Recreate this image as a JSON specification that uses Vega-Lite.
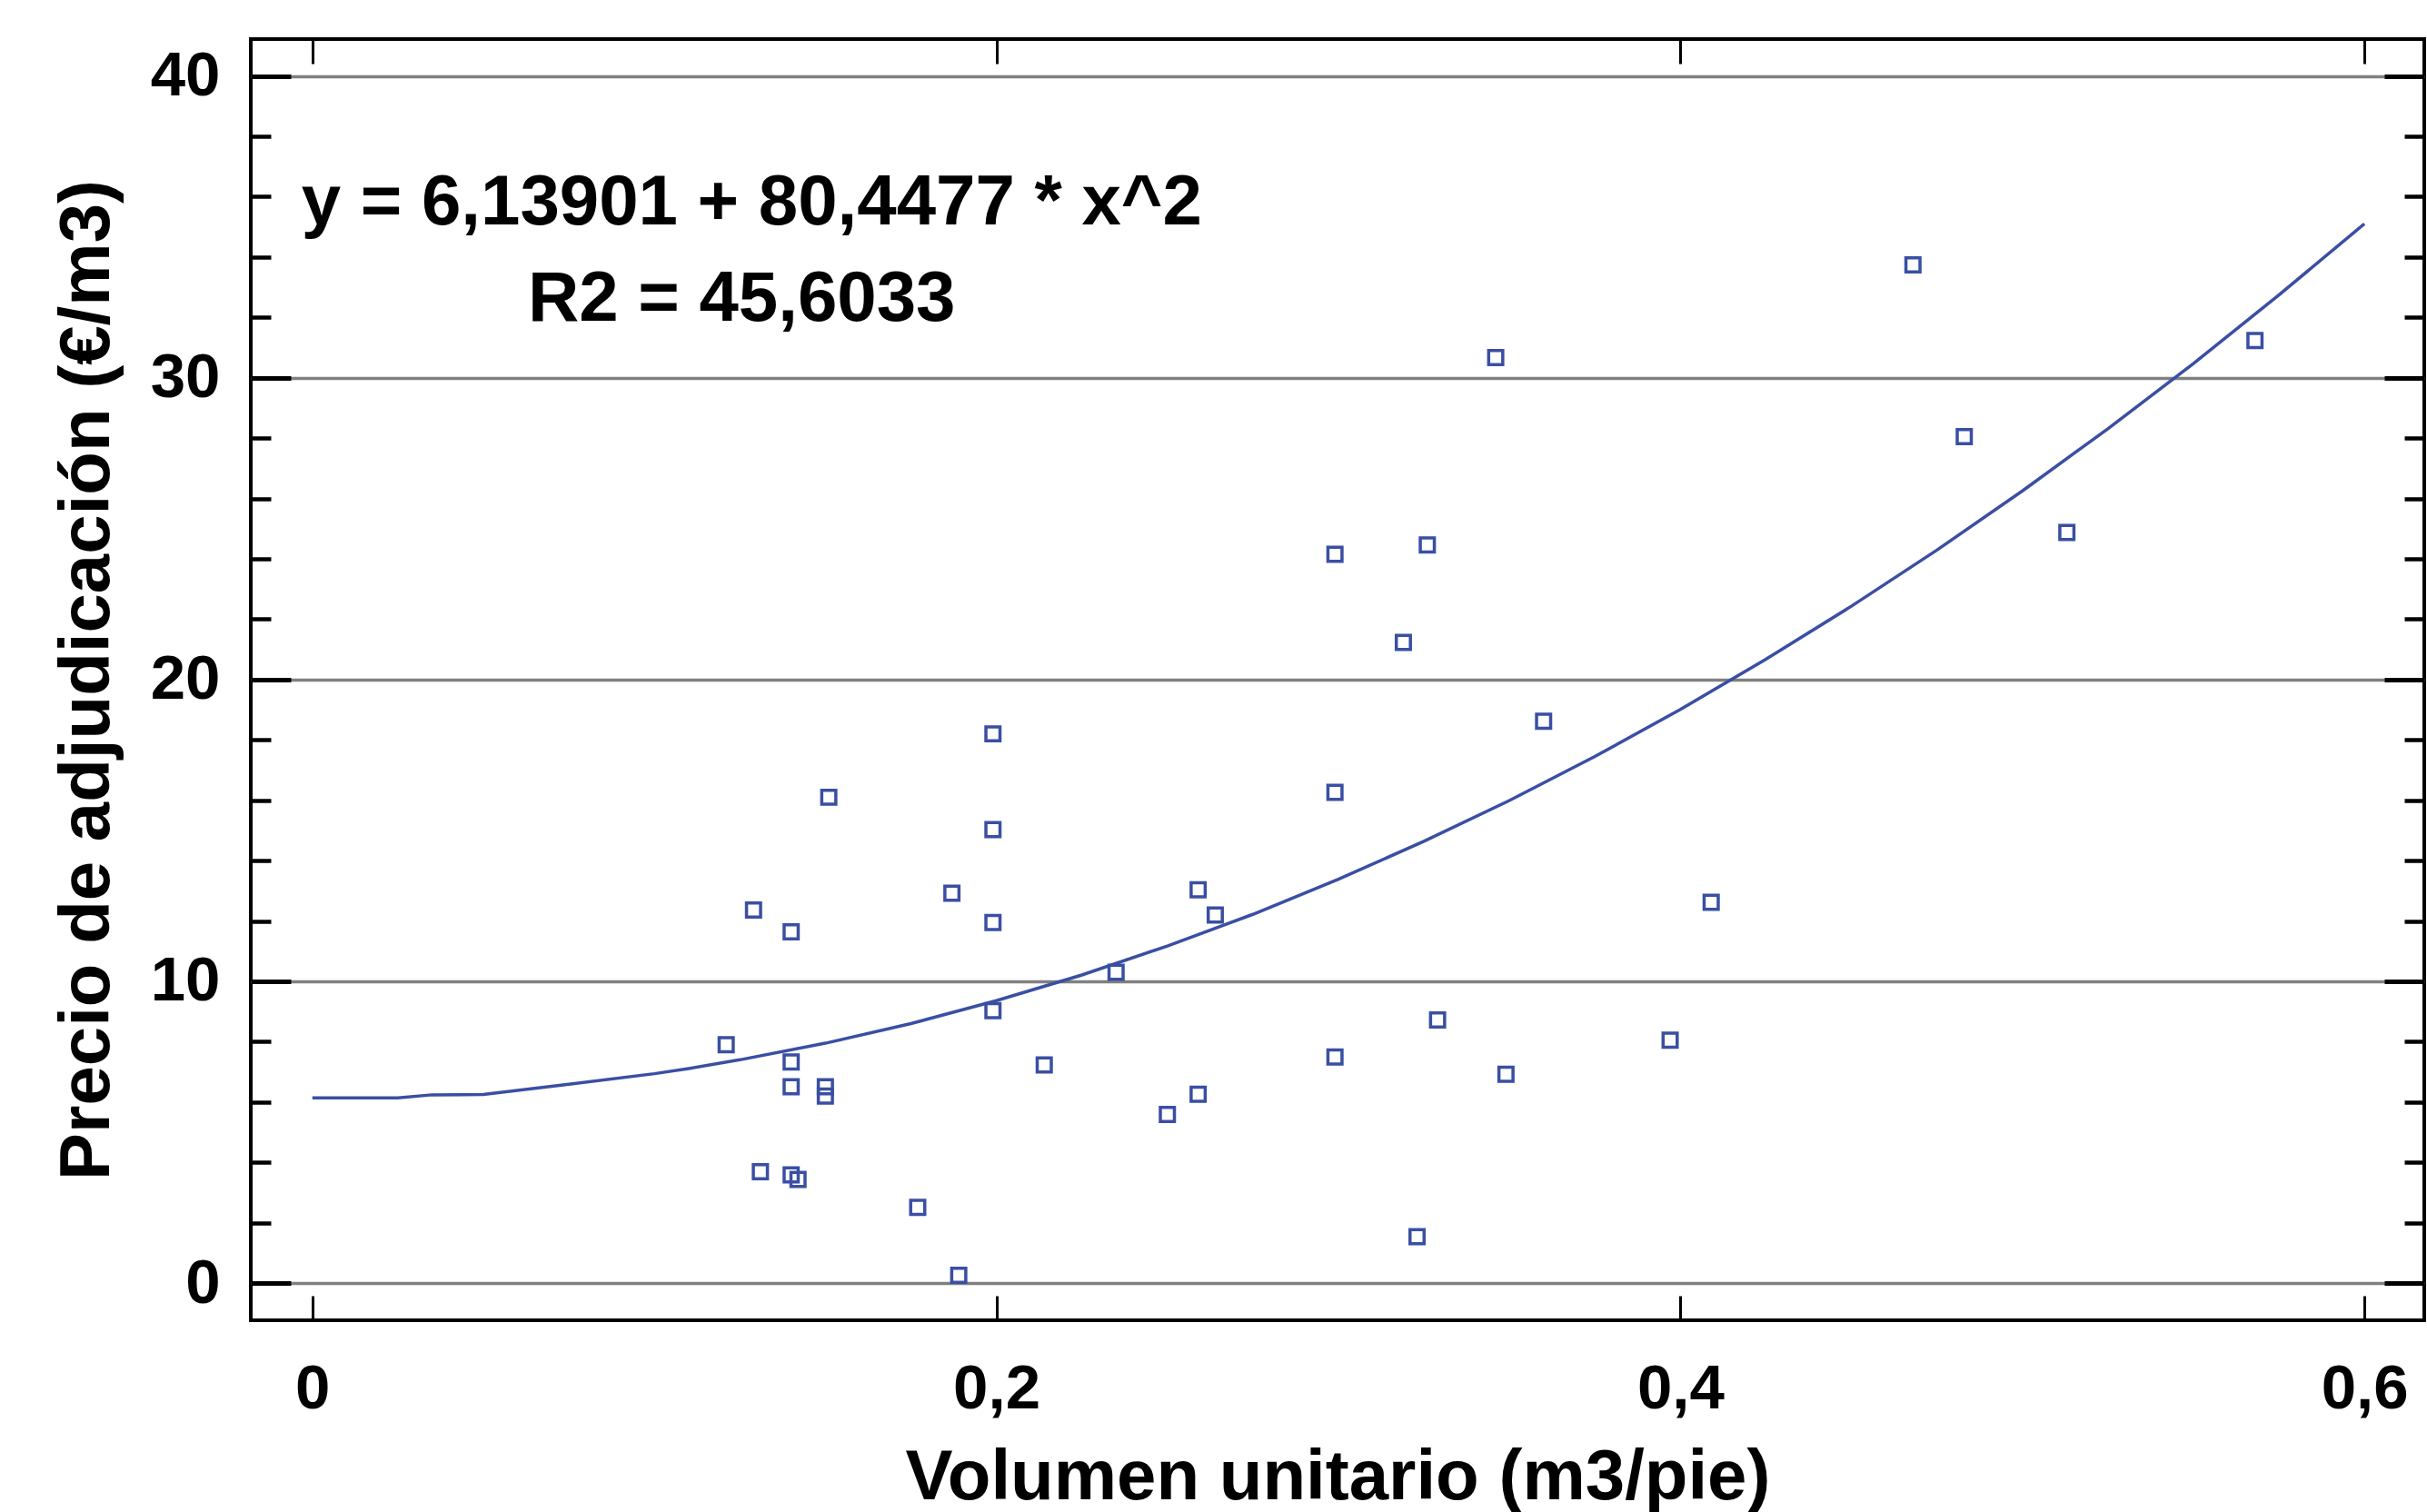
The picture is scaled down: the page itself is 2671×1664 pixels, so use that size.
{
  "$schema": "https://vega.github.io/schema/vega-lite/v6.json",
  "width": 2392,
  "height": 1410,
  "autosize": "none",
  "padding": {"left": 276, "top": 43, "right": 3, "bottom": 211},
  "background": "white",
  "config": {
    "view": {"stroke": "black", "strokeWidth": 4},
    "font": "Liberation Sans",
    "axis": {"labelFont": "Liberation Sans", "titleFont": "Liberation Sans", "labelFontWeight": "bold", "titleFontWeight": "bold", "labelColor": "black", "titleColor": "black", "tickColor": "black", "domain": false}
  },
  "datasets": {
    "pts": [
      {"vol": 0.121, "precio": 7.9},
      {"vol": 0.129, "precio": 12.36},
      {"vol": 0.131, "precio": 3.69},
      {"vol": 0.140, "precio": 11.64},
      {"vol": 0.140, "precio": 7.33},
      {"vol": 0.140, "precio": 6.51},
      {"vol": 0.140, "precio": 3.59},
      {"vol": 0.142, "precio": 3.44},
      {"vol": 0.150, "precio": 6.51},
      {"vol": 0.150, "precio": 6.2},
      {"vol": 0.151, "precio": 16.1},
      {"vol": 0.177, "precio": 2.51},
      {"vol": 0.187, "precio": 12.92},
      {"vol": 0.189, "precio": 0.26},
      {"vol": 0.199, "precio": 18.2},
      {"vol": 0.199, "precio": 15.03},
      {"vol": 0.199, "precio": 11.95},
      {"vol": 0.199, "precio": 9.03},
      {"vol": 0.214, "precio": 7.23},
      {"vol": 0.235, "precio": 10.3},
      {"vol": 0.250, "precio": 5.59},
      {"vol": 0.259, "precio": 13.03},
      {"vol": 0.259, "precio": 6.26},
      {"vol": 0.264, "precio": 12.2},
      {"vol": 0.299, "precio": 24.15},
      {"vol": 0.299, "precio": 16.26},
      {"vol": 0.299, "precio": 7.49},
      {"vol": 0.319, "precio": 21.23},
      {"vol": 0.323, "precio": 1.54},
      {"vol": 0.326, "precio": 24.46},
      {"vol": 0.329, "precio": 8.72},
      {"vol": 0.346, "precio": 30.67},
      {"vol": 0.349, "precio": 6.92},
      {"vol": 0.360, "precio": 18.62},
      {"vol": 0.397, "precio": 8.05},
      {"vol": 0.409, "precio": 12.62},
      {"vol": 0.468, "precio": 33.74},
      {"vol": 0.483, "precio": 28.05},
      {"vol": 0.513, "precio": 24.87},
      {"vol": 0.568, "precio": 31.23}
    ],
    "fit": [
      {"vol": 0.0, "precio": 6.14},
      {"vol": 0.025, "precio": 6.14},
      {"vol": 0.035, "precio": 6.24},
      {"vol": 0.05, "precio": 6.25},
      {"vol": 0.075, "precio": 6.59},
      {"vol": 0.1, "precio": 6.94},
      {"vol": 0.11, "precio": 7.11},
      {"vol": 0.125, "precio": 7.4},
      {"vol": 0.15, "precio": 7.95},
      {"vol": 0.175, "precio": 8.6},
      {"vol": 0.2, "precio": 9.36},
      {"vol": 0.225, "precio": 10.21},
      {"vol": 0.25, "precio": 11.17},
      {"vol": 0.275, "precio": 12.22},
      {"vol": 0.3, "precio": 13.38},
      {"vol": 0.325, "precio": 14.64},
      {"vol": 0.35, "precio": 15.99},
      {"vol": 0.375, "precio": 17.45},
      {"vol": 0.4, "precio": 19.01},
      {"vol": 0.425, "precio": 20.67},
      {"vol": 0.45, "precio": 22.43},
      {"vol": 0.475, "precio": 24.29},
      {"vol": 0.5, "precio": 26.25},
      {"vol": 0.525, "precio": 28.31},
      {"vol": 0.55, "precio": 30.47},
      {"vol": 0.575, "precio": 32.74},
      {"vol": 0.6, "precio": 35.1}
    ],
    "eq": [
      {"vol": -0.0032, "precio": 35.09, "label": "y = 6,13901 + 80,4477 * x^2"}
    ],
    "r2": [
      {"vol": 0.063, "precio": 31.9, "label": "R2 = 45,6033"}
    ]
  },
  "layer": [
    {
      "data": {"name": "pts"},
      "mark": {"type": "point", "shape": "square", "filled": false, "stroke": "#3a4fa3", "strokeWidth": 3.5, "size": 240, "opacity": 1},
      "encoding": {
        "x": {"field": "vol", "type": "quantitative",
          "scale": {"domain": [-0.018, 0.6175], "nice": false, "zero": false},
          "axis": {"orient": "bottom", "values": [0, 0.2, 0.4, 0.6], "format": ",.1~f", "labelExpr": "replace(datum.label, '.', ',')", "tickSize": -27, "tickWidth": 3, "labelPadding": 68, "labelFontSize": 69, "title": "Volumen unitario (m3/pie)", "titleFontSize": 78, "titlePadding": 24, "grid": false, "labelFlush": false}},
        "y": {"field": "precio", "type": "quantitative",
          "scale": {"domain": [-1.23, 41.22], "nice": false, "zero": false},
          "axis": {"orient": "left", "values": [0, 10, 20, 30, 40], "tickSize": -44, "tickWidth": 5, "labelPadding": 78, "labelFontSize": 69, "title": "Precio de adjudicación (€/m3)", "titleFontSize": 78, "titlePadding": 30, "grid": true, "gridColor": "#808080", "gridWidth": 3.5, "gridOpacity": 1, "labelFlush": false}}
      }
    },
    {
      "data": {"name": "fit"},
      "mark": {"type": "line", "color": "#3a4fa3", "strokeWidth": 3.5},
      "encoding": {
        "x": {"field": "vol", "type": "quantitative",
          "axis": {"orient": "top", "values": [0, 0.2, 0.4, 0.6], "tickSize": -27, "tickWidth": 3, "labels": false, "title": null, "grid": false}},
        "y": {"field": "precio", "type": "quantitative",
          "axis": {"orient": "left", "values": [2, 4, 6, 8, 12, 14, 16, 18, 22, 24, 26, 28, 32, 34, 36, 38], "tickSize": -22, "tickWidth": 4.5, "labels": false, "title": null, "grid": false}}
      }
    },
    {
      "data": {"name": "eq"},
      "mark": {"type": "text", "align": "left", "baseline": "alphabetic", "font": "Liberation Sans", "fontWeight": "bold", "fontSize": 78, "color": "black"},
      "encoding": {
        "x": {"field": "vol", "type": "quantitative", "axis": null},
        "y": {"field": "precio", "type": "quantitative",
          "axis": {"orient": "right", "values": [0, 10, 20, 30, 40], "tickSize": -44, "tickWidth": 5, "labels": false, "title": null, "grid": false}},
        "text": {"field": "label"}
      }
    },
    {
      "data": {"name": "r2"},
      "mark": {"type": "text", "align": "left", "baseline": "alphabetic", "font": "Liberation Sans", "fontWeight": "bold", "fontSize": 78, "color": "black"},
      "encoding": {
        "x": {"field": "vol", "type": "quantitative", "axis": null},
        "y": {"field": "precio", "type": "quantitative",
          "axis": {"orient": "right", "values": [2, 4, 6, 8, 12, 14, 16, 18, 22, 24, 26, 28, 32, 34, 36, 38], "tickSize": -22, "tickWidth": 4.5, "labels": false, "title": null, "grid": false}},
        "text": {"field": "label"}
      }
    }
  ],
  "resolve": {"axis": {"x": "independent", "y": "independent"}}
}
